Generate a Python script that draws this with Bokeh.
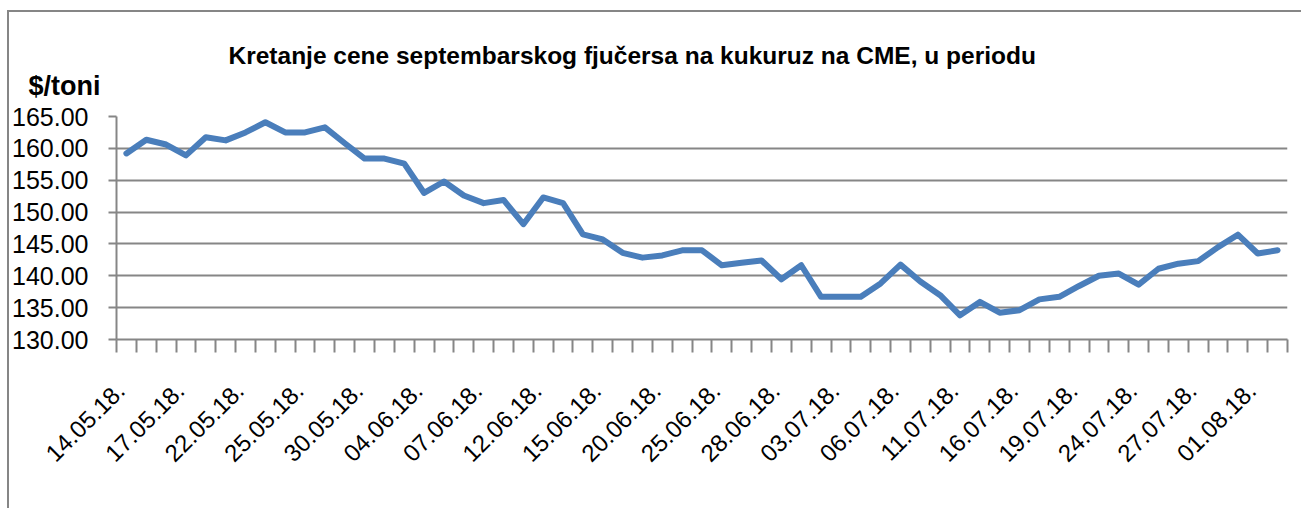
from bokeh.plotting import figure
from bokeh.models import Range1d, FixedTicker, Title
from bokeh.embed import file_html
from bokeh.resources import INLINE

dates = ["14.05.18.", "15.05.18.", "16.05.18.", "17.05.18.", "18.05.18.", "21.05.18.",
         "22.05.18.", "23.05.18.", "24.05.18.", "25.05.18.", "28.05.18.", "29.05.18.",
         "30.05.18.", "31.05.18.", "01.06.18.", "04.06.18.", "05.06.18.", "06.06.18.",
         "07.06.18.", "08.06.18.", "11.06.18.", "12.06.18.", "13.06.18.", "14.06.18.",
         "15.06.18.", "18.06.18.", "19.06.18.", "20.06.18.", "21.06.18.", "22.06.18.",
         "25.06.18.", "26.06.18.", "27.06.18.", "28.06.18.", "29.06.18.", "02.07.18.",
         "03.07.18.", "04.07.18.", "05.07.18.", "06.07.18.", "09.07.18.", "10.07.18.",
         "11.07.18.", "12.07.18.", "13.07.18.", "16.07.18.", "17.07.18.", "18.07.18.",
         "19.07.18.", "20.07.18.", "23.07.18.", "24.07.18.", "25.07.18.", "26.07.18.",
         "27.07.18.", "30.07.18.", "31.07.18.", "01.08.18.", "02.08.18."]

prices = [159.2, 161.35, 160.6, 158.9, 161.75, 161.25, 162.5, 164.1, 162.5, 162.5,
          163.3, 160.8, 158.4, 158.4, 157.6, 153.0, 154.8, 152.6, 151.4, 151.9,
          148.1, 152.3, 151.4, 146.5, 145.7, 143.6, 142.85, 143.2, 144.0, 144.0,
          141.65, 142.05, 142.4, 139.45, 141.65, 136.7, 136.7, 136.7, 138.8, 141.75,
          139.1, 136.95, 133.8, 135.9, 134.2, 134.6, 136.3, 136.7, 138.4, 140.0,
          140.35, 138.6, 141.1, 141.9, 142.3, 144.5, 146.45, 143.5, 144.0]

y_ticks = [130, 135, 140, 145, 150, 155, 160, 165]

title_text = "Kretanje cene septembarskog fjučersa na  kukuruz na CME, u periodu"
unit_text = "$/toni"

FONT = "Liberation Sans"
GRID = "#868686"

# canvas placed at page (9, 12) by the CSS margin + border below
W, H = 1294, 498
ML, MT, MR, MB = 107, 104, 16, 171

p = figure(width=W, height=H, output_backend="svg", toolbar_location=None,
           x_range=Range1d(-0.5, len(dates) - 0.5), y_range=Range1d(130, 165),
           min_border_left=ML, min_border_right=MR, min_border_top=MT,
           min_border_bottom=MB)
p.styles = {"margin-left": "7px", "margin-top": "10px",
            "border-left": "2px solid #868686", "border-top": "2px solid #868686"}
p.outline_line_color = None
p.background_fill_color = "white"
p.border_fill_color = "white"

xs = list(range(len(dates)))
p.line(xs, prices, line_color="#4a7ebb", line_width=6, line_join="round", line_cap="round")

# y axis
p.yaxis.ticker = FixedTicker(ticks=y_ticks)
p.yaxis.major_label_overrides = {t: f"{t:.2f}" for t in y_ticks}
p.yaxis.major_label_text_font = FONT
p.yaxis.major_label_text_font_size = "25px"
p.yaxis.major_label_text_color = "black"
p.yaxis.major_label_standoff = 20
p.yaxis.axis_line_color = GRID
p.yaxis.axis_line_width = 2
p.yaxis.major_tick_line_color = GRID
p.yaxis.major_tick_line_width = 2
p.yaxis.major_tick_out = 8
p.yaxis.major_tick_in = 0
p.yaxis.minor_tick_line_color = None

p.ygrid.ticker = FixedTicker(ticks=y_ticks)
p.ygrid.grid_line_color = GRID
p.ygrid.grid_line_width = 2
p.xgrid.grid_line_color = None

# x axis: labels every 3rd date (nudged slightly left), tick marks between categories
label_idx = list(range(0, len(dates), 3))
SHIFT = 0.3
label_pos = [i - SHIFT for i in label_idx]
boundaries = [i - 0.5 for i in range(len(dates) + 1)]
p.xaxis.ticker = FixedTicker(ticks=label_pos, minor_ticks=boundaries)
p.xaxis.major_label_overrides = {i - SHIFT: dates[i] for i in label_idx}
p.xaxis.major_label_orientation = 0.785398
p.xaxis.major_label_text_font = FONT
p.xaxis.major_label_text_font_size = "24px"
p.xaxis.major_label_text_color = "black"
p.xaxis.major_label_standoff = 34
p.xaxis.axis_line_color = GRID
p.xaxis.axis_line_width = 2
p.xaxis.major_tick_line_color = None
p.xaxis.major_tick_out = 0
p.xaxis.major_tick_in = 0
p.xaxis.minor_tick_line_color = GRID
p.xaxis.minor_tick_line_width = 2
p.xaxis.minor_tick_out = 13
p.xaxis.minor_tick_in = 0

# unit label and title as Title panels above the frame
p.add_layout(Title(text=unit_text + "\n\u00a0", align="left", offset=-88, standoff=1,
                   text_font=FONT, text_font_size="27px", text_font_style="bold",
                   text_line_height=0.5, text_color="black"), "above")
p.add_layout(Title(text=title_text, align="left", offset=112, standoff=0,
                   text_font=FONT, text_font_size="24.5px", text_font_style="bold",
                   text_color="black"), "above")

open("out.html", "w").write(file_html(p, INLINE))
